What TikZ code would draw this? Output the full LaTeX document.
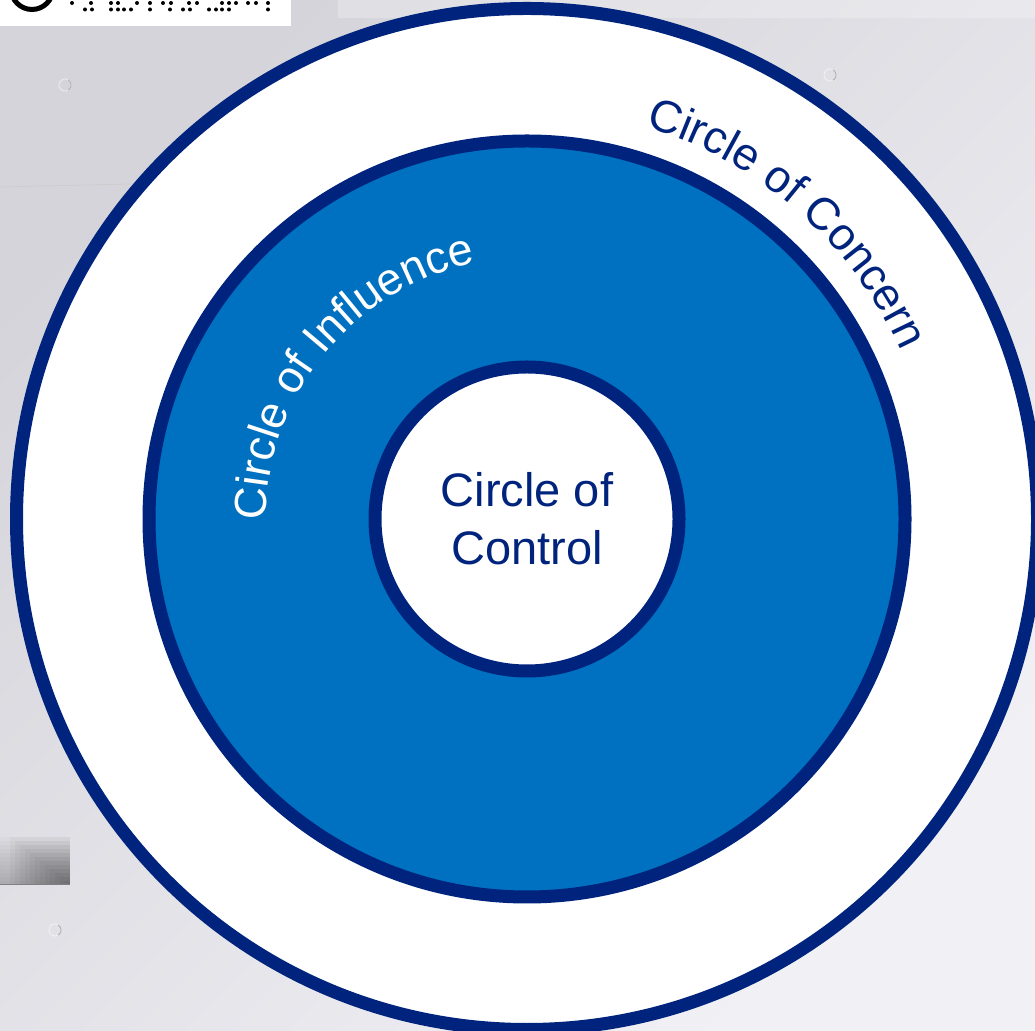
\documentclass[tikz,border=0pt]{standalone}
\usepackage{fontspec}
\setmainfont{Liberation Sans}
\usetikzlibrary{decorations.text}
\definecolor{ringnavy}{RGB}{0,36,125}
\definecolor{fillblue}{RGB}{0,112,192}
\definecolor{wallleft}{RGB}{212,212,218}
\definecolor{wallright}{RGB}{240,240,245}
\newcommand{\concernfont}{\fontsize{45.5}{58}\selectfont}
\newcommand{\influencefont}{\fontsize{45}{58}\selectfont}
\newcommand{\centerfont}{\fontsize{47}{58}\selectfont}
\tikzset{
  ring/.style={circle,draw=ringnavy,line width=13pt,inner sep=0pt},
  mark ring/.style={draw=black!30,line width=1pt},
}
\begin{document}
\begin{tikzpicture}
  [x=1pt,y=1pt]
  \useasboundingbox (0,0) rectangle (1035,1030);
  \clip (0,0) rectangle (1035,1030);
  \shade[left color=wallleft,right color=wallright,shading angle=45] (0,0) rectangle (1035,1030);
  \fill[white,opacity=.25] (338,1012) rectangle (1035,1030);
  \draw[black!20,line width=.6pt] (0,843) -- (130,846);
  \foreach \k in {1,...,12}{
    \fill[black,opacity=.02] (0,145) rectangle (70,145+4*\k);
    \fill[black,opacity=.03] (70-5*\k,145) rectangle (70,145+4*\k);
  }
  \draw[black!50,line width=1pt] (0,145) -- (70,145);
  \foreach \cx/\cy in {65/85,830/75,55/930}{
    \draw[white,opacity=.5,line width=1pt] (\cx,1030-\cy) circle (6);
    \draw[mark ring] (\cx,1030-\cy) ++(-60:6) arc (-60:60:6);
  }
  \fill[white] (0,1004) rectangle (291,1030);
  \draw[black,line width=5pt] (32,1041.5) circle (21);
  \foreach \dotx in {72,91,111,118,137,150,163,171,189,197,222,229,236,248,256,268}
    \fill[black] (\dotx,1027) circle (2);
  \foreach \dotx in {85,92,111,118,124,131,150,170,183,190,209,216,222,229,268}
    \fill[black] (\dotx,1020.5) circle (2);
  \coordinate (center) at (527,511);
  \node[ring,fill=white,minimum size=1021pt] (concern) at (center) {};
  \node[ring,fill=fillblue,minimum size=756pt] (influence) at (center) {};
  \node[ring,fill=white,minimum size=304pt] (control) at (center) {};
  \node[align=center,text=ringnavy,font=\centerfont] (controllabel) at (center) {Circle of\\Control};
  \path[decorate,decoration={text along path,text align=center,
    text={|\concernfont\color{ringnavy}|Circle of Concern}}]
    (center) ++(73.2:410) arc (73.2:24.2:410);
  \path[decorate,decoration={text along path,text align=center,
    text={|\influencefont\color{white}|Circle of Influence}}]
    (center) ++(179.3:261) arc (179.3:102.3:261);
\end{tikzpicture}
\end{document}
